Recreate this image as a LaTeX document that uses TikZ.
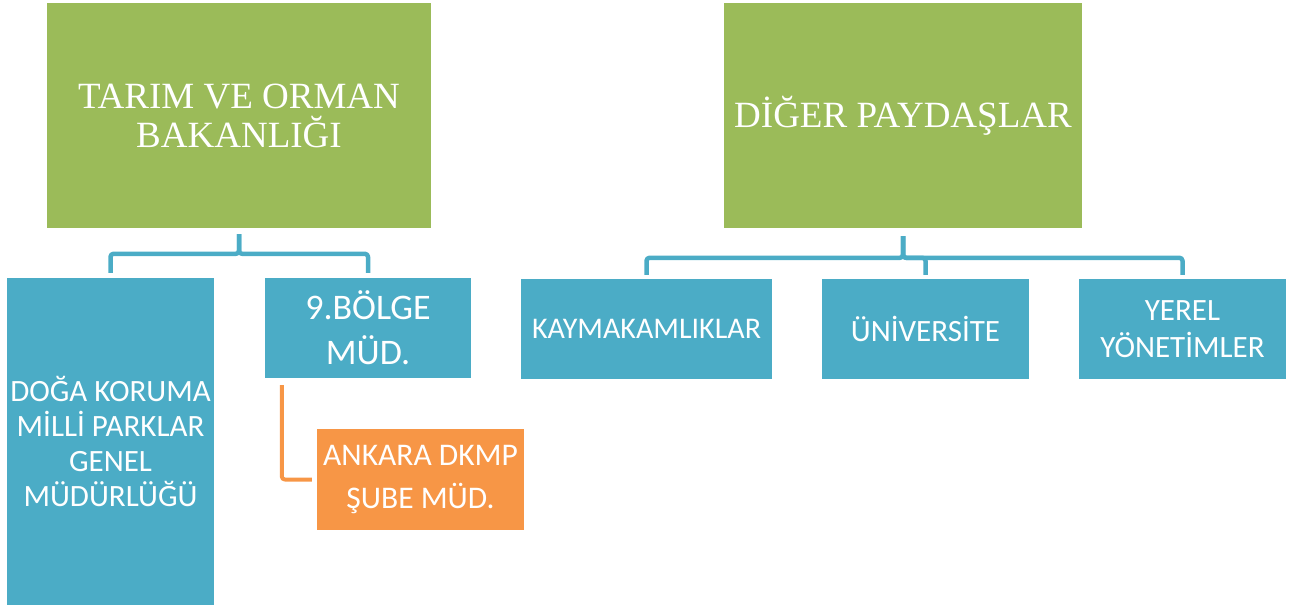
\documentclass[tikz,border=0pt]{standalone}
\usepackage{fontspec}
\setmainfont{Liberation Serif}
\newfontfamily\calibri{Carlito}
\definecolor{yesil}{HTML}{9BBB59}
\definecolor{mavi}{HTML}{4BACC6}
\definecolor{turuncu}{HTML}{F79646}
\begin{document}
\begin{tikzpicture}[x=1pt, y=-1pt, line join=round,
 ana/.style={fill=yesil, text=white, align=center, inner sep=0pt, font=\fontsize{37}{39}\selectfont},
 kutu/.style={fill=mavi, text=white, align=center, inner sep=0pt, minimum width=207, minimum height=100},
 bag/.style={draw=mavi, line width=4.5pt, rounded corners=3pt}]
 \useasboundingbox (0,0) rectangle (1290,609);
 % ust kutular
 \node[ana, minimum width=384, minimum height=225] (tob) at (239,115.5) {TARIM VE ORMAN\\BAKANLIĞI};
 \node[ana, minimum width=358, minimum height=225] (diger) at (903,115.5) {DİĞER PAYDAŞLAR};
 % alt kutular
 \node[kutu, minimum height=327, font=\calibri\fontsize{31}{35}\selectfont] (dkmp) at (110.5,441.5) {DOĞA KORUMA\\MİLLİ PARKLAR\\GENEL\\MÜDÜRLÜĞÜ};
 \node[kutu, minimum width=206, font=\calibri\fontsize{36}{45}\selectfont] (bolge) at (368,328) {9.BÖLGE\\MÜD.};
 \node[kutu, fill=turuncu, minimum height=101, font=\calibri\fontsize{31.5}{43}\selectfont] (sube) at (420.5,479.5) {ANKARA DKMP\\ŞUBE MÜD.};
 \node[kutu, minimum width=251, font=\calibri\fontsize{30}{36}\selectfont] (kaym) at (646.5,329) {KAYMAKAMLIKLAR};
 \node[kutu, font=\calibri\fontsize{31}{37}\selectfont] (univ) at (925.5,329) {ÜNİVERSİTE};
 \node[kutu, font=\calibri\fontsize{31}{37}\selectfont] (yerel) at (1182.5,329) {YEREL\\YÖNETİMLER};
 % baglantilar
 \foreach \c in {dkmp,bolge}
  \draw[bag] ([yshift=-6pt]tob.south) |- ([yshift=24pt]\c.north) -- ([yshift=5pt]\c.north);
 \foreach \c in {kaym,univ,yerel}
  \draw[bag] ([yshift=-8pt]diger.south) |- ([yshift=21pt]\c.north) -- ([yshift=4pt]\c.north);
 \draw[bag, draw=turuncu, line width=4pt] ([xshift=17pt,yshift=-7pt]bolge.south west) |- ([xshift=-5pt]sube.west);
\end{tikzpicture}
\end{document}
